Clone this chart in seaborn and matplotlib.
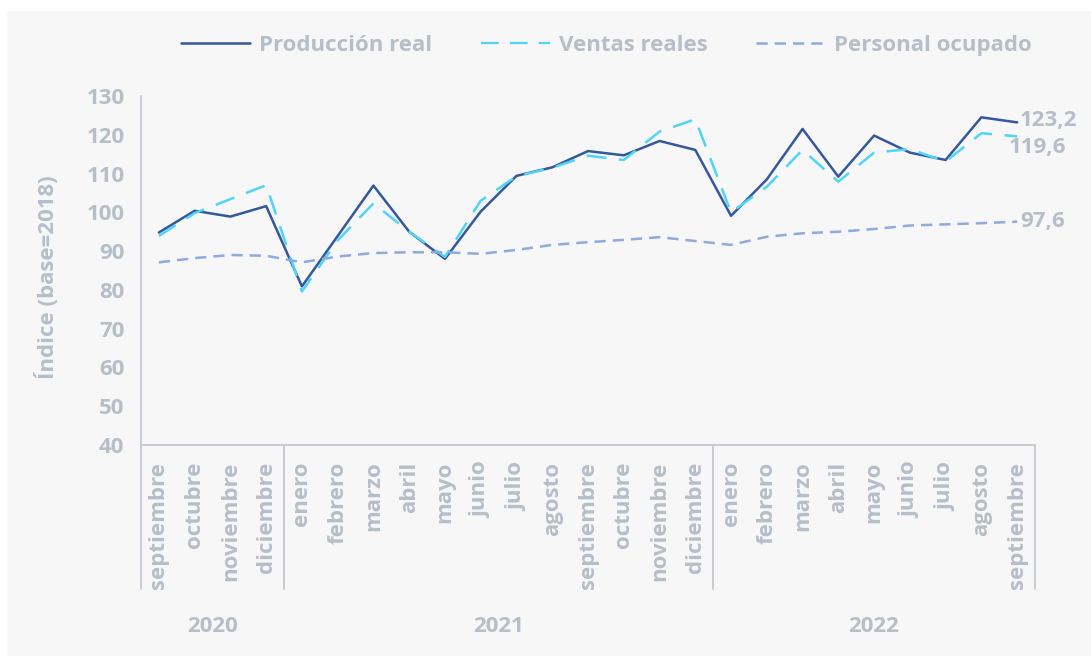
import numpy as np
import pandas as pd
import matplotlib
matplotlib.use("Agg")
import matplotlib.pyplot as plt
from matplotlib.patches import Rectangle
import seaborn as sns

# --- data ---
months = ["septiembre", "octubre", "noviembre", "diciembre",
          "enero", "febrero", "marzo", "abril", "mayo", "junio", "julio",
          "agosto", "septiembre", "octubre", "noviembre", "diciembre",
          "enero", "febrero", "marzo", "abril", "mayo", "junio", "julio",
          "agosto", "septiembre"]
years = ["2020", "2021", "2022"]
year_sizes = [4, 12, 9]

produccion = [94.8, 100.4, 98.9, 101.6, 80.9, 93.9, 106.9, 95.0, 88.0,
              100.2, 109.4, 111.6, 115.8, 114.7, 118.4, 116.1, 99.1,
              108.5, 121.5, 109.2, 119.8, 115.4, 113.5, 124.5, 123.2]
ventas = [93.9, 99.8, 103.4, 107.0, 79.6, 92.8, 102.3, 95.0, 88.5,
          103.0, 109.3, 111.5, 114.6, 113.5, 120.8, 124.0, 100.0,
          106.6, 116.1, 107.9, 115.4, 116.3, 113.1, 120.4, 119.6]
personal = [87.1, 88.2, 89.0, 88.8, 87.1, 88.6, 89.5, 89.7, 89.7, 89.3,
            90.3, 91.6, 92.3, 92.9, 93.6, 92.6, 91.6, 93.7, 94.6, 95.0,
            95.7, 96.6, 96.9, 97.2, 97.6]

series_names = ["Producción real", "Ventas reales", "Personal ocupado"]
colors = {"Producción real": "#35589a",
          "Ventas reales": "#4fd5f8",
          "Personal ocupado": "#8eaade"}
dashes = {"Producción real": "",
          "Ventas reales": (8, 5),
          "Personal ocupado": (4.5, 2.8)}

TXT = "#b6bec9"
BG = "#f7f7f7"
AX_LINE = "#c3c8d0"
FS = 16

idx = np.arange(len(months))
df = pd.DataFrame({
    "idx": np.tile(idx, 3),
    "valor": produccion + ventas + personal,
    "serie": np.repeat(series_names, len(months)),
})

sns.set_theme(style="white")
plt.rcParams["font.family"] = ["Open Sans", "DejaVu Sans"]
plt.rcParams["font.weight"] = "bold"

fig = plt.figure(figsize=(10.91, 6.56), dpi=100)
fig.patch.set_facecolor("white")
fig.patches.append(Rectangle((7 / 1091, 0), 1, 1 - 11 / 656,
                             transform=fig.transFigure, facecolor=BG,
                             edgecolor="none", zorder=-10))
ax = fig.add_axes([141 / 1091, 1 - 445 / 656, 894 / 1091, 349 / 656])
ax.set_facecolor(BG)

sns.lineplot(data=df, x="idx", y="valor", hue="serie", style="serie",
             palette=colors, dashes=dashes, hue_order=series_names,
             style_order=series_names, ax=ax, linewidth=1.8)
for line in ax.lines:
    if line.get_label() == "Ventas reales":
        line.set_linewidth(1.6)

ax.set_xlim(-0.5, len(months) - 0.5)
ax.set_ylim(40, 130)
ax.set_yticks(np.arange(40, 131, 10))
ax.set_xticks(idx)
ax.set_xticklabels(months, rotation=90, va="top", ha="center")
ax.tick_params(axis="both", length=0, labelsize=FS, colors=TXT)
ax.tick_params(axis="x", pad=12)
ax.tick_params(axis="y", pad=12)
for lab in ax.get_xticklabels() + ax.get_yticklabels():
    lab.set_fontweight("bold")

sns.despine(ax=ax)
for s in ["left", "bottom"]:
    ax.spines[s].set_color(AX_LINE)
    ax.spines[s].set_linewidth(1.3)

ax.set_xlabel("")
ax.set_ylabel("Índice (base=2018)", fontsize=FS, color=TXT, fontweight="bold")
ax.yaxis.set_label_coords(-0.092, 0.48)

# year groups with separators
bounds = np.concatenate([[0], np.cumsum(year_sizes)]) - 0.5
for b in bounds:
    ax.plot([b, b], [0, -0.413], color=AX_LINE, lw=1.3,
            transform=ax.get_xaxis_transform(), clip_on=False)
for y, a, b in zip(years, bounds[:-1], bounds[1:]):
    ax.text((a + b) / 2, -0.519, y, transform=ax.get_xaxis_transform(),
            ha="center", va="center", fontsize=FS, color=TXT,
            fontweight="bold")

# end labels
last = len(months) - 1
end_vals = [produccion[-1], ventas[-1], personal[-1]]
offsets = [(2, 1.5), (-6, -8), (2, 0)]
for v, off in zip(end_vals, offsets):
    ax.annotate(f"{v:.1f}".replace(".", ","), xy=(last, v),
                xytext=off, textcoords="offset points", ha="left",
                va="center", fontsize=FS, color=TXT, fontweight="bold",
                annotation_clip=False)

leg = ax.legend(loc="center", bbox_to_anchor=(0.556, 0.931),
                bbox_transform=fig.transFigure, ncol=3, frameon=False,
                fontsize=FS, handlelength=3.1, handletextpad=0.4,
                columnspacing=2.2)
for t in leg.get_texts():
    t.set_color(TXT)
    t.set_fontweight("bold")

fig.savefig("out.png", dpi=100, facecolor=fig.get_facecolor())
